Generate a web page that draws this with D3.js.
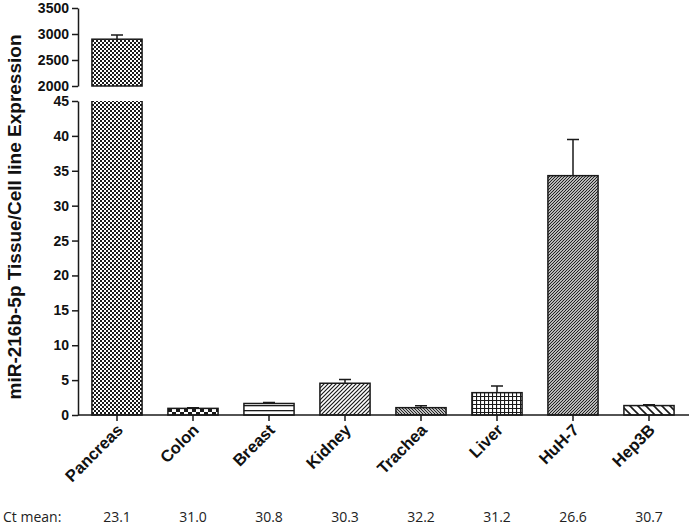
<!DOCTYPE html>
<html>
<head>
<meta charset="utf-8">
<script src="https://cdn.jsdelivr.net/npm/d3@7"></script>
<style>
  body { margin: 0; background: #fff; }
  svg { display: block; }
</style>
</head>
<body>
<div id="chart"></div>
<script>
// data
var categories = ["Pancreas", "Colon", "Breast", "Kidney", "Trachea", "Liver", "HuH-7", "Hep3B"];
var means = [2900, 0.95, 1.65, 4.55, 1.05, 3.2, 34.3, 1.35];
var errors = [80, 0.1, 0.15, 0.55, 0.28, 0.95, 5.2, 0.13];
var ctMeans = ["23.1", "31.0", "30.8", "30.3", "32.2", "31.2", "26.6", "30.7"];
var patterns = ["checkFine", "checkBig", "hlines", "diagUp", "diagDown", "grid", "diagDense", "diagWide"];
var upperTicks = [2000, 2500, 3000, 3500];
var lowerTicks = [0, 5, 10, 15, 20, 25, 30, 35, 40, 45];

var width = 690, height = 526;
var ink = "#1a1a1a";
var boldFont = "'Liberation Sans', Arial, sans-serif";

var svg = d3.select("#chart").append("svg")
	.attr("width", width)
	.attr("height", height);

// ---- fill patterns ----
var defs = svg.append("defs");
function addPattern(id, w, h, draw) {
	var p = defs.append("pattern")
		.attr("id", id)
		.attr("patternUnits", "userSpaceOnUse")
		.attr("width", w)
		.attr("height", h);
	p.append("rect").attr("width", w).attr("height", h).attr("fill", "#fff");
	draw(p);
}
addPattern("checkFine", 4, 4, function(p) {
	p.append("rect").attr("x", 0).attr("y", 0).attr("width", 2).attr("height", 2).attr("fill", ink);
	p.append("rect").attr("x", 2).attr("y", 2).attr("width", 2).attr("height", 2).attr("fill", ink);
});
addPattern("checkBig", 8, 8, function(p) {
	p.append("rect").attr("x", 0).attr("y", 0).attr("width", 4).attr("height", 4).attr("fill", ink);
	p.append("rect").attr("x", 4).attr("y", 4).attr("width", 4).attr("height", 4).attr("fill", ink);
});
addPattern("hlines", 6, 5, function(p) {
	p.append("rect").attr("x", 0).attr("y", 0).attr("width", 6).attr("height", 1.3).attr("fill", ink);
});
addPattern("diagUp", 4, 4, function(p) {
	p.append("path").attr("d", "M-1,1 L1,-1 M0,4 L4,0 M3,5 L5,3")
		.attr("stroke", ink).attr("stroke-width", 1.2);
});
addPattern("diagDown", 3, 3, function(p) {
	p.append("path").attr("d", "M-1,2 L1,4 M0,0 L3,3 M2,-1 L4,1")
		.attr("stroke", ink).attr("stroke-width", 1.1);
});
addPattern("grid", 4, 4, function(p) {
	p.append("path").attr("d", "M0,0.5 H4 M0.5,0 V4")
		.attr("stroke", ink).attr("stroke-width", 1.2);
});
addPattern("diagDense", 3, 3, function(p) {
	p.append("path").attr("d", "M-1,1 L1,-1 M0,3 L3,0 M2,4 L4,2")
		.attr("stroke", ink).attr("stroke-width", 1.2);
});
addPattern("diagWide", 8, 8, function(p) {
	p.append("path").attr("d", "M-2,6 L2,10 M0,0 L8,8 M6,-2 L10,2")
		.attr("stroke", ink).attr("stroke-width", 1.6);
});

// ---- scales ----
var x = d3.scaleBand()
	.domain(categories)
	.range([79, 687])
	.paddingInner(0.34)
	.paddingOuter(0.17);

var yUpper = d3.scaleLinear().domain([2000, 3500]).range([86, 8]);
var yLower = d3.scaleLinear().domain([0, 45]).range([415, 101]);
var axisX = 78;

// ---- y axes (broken) ----
function styleAxis(g) {
	g.select(".domain").attr("stroke", ink).attr("stroke-width", 1.5);
	g.selectAll(".tick line").attr("stroke", ink).attr("stroke-width", 1.5);
	g.selectAll(".tick text")
		.attr("fill", "#111")
		.style("font-family", boldFont)
		.style("font-weight", "bold")
		.style("font-size", "14px");
}
svg.append("g")
	.attr("transform", "translate(" + axisX + ",0)")
	.call(d3.axisLeft(yUpper).tickValues(upperTicks).tickFormat(d3.format("d"))
		.tickSize(6).tickSizeOuter(0).tickPadding(3))
	.call(styleAxis);
svg.append("g")
	.attr("transform", "translate(" + axisX + ",0)")
	.call(d3.axisLeft(yLower).tickValues(lowerTicks).tickFormat(d3.format("d"))
		.tickSize(6).tickSizeOuter(0).tickPadding(3))
	.call(styleAxis);

// ---- bars ----
var bars = svg.append("g");
categories.forEach(function(c, i) {
	var x0 = x(c), bw = x.bandwidth(), v = means[i], e = errors[i];
	var fill = "url(#" + patterns[i] + ")";
	var top, cap;
	if (v > 45) {
		// lower part, open at top
		bars.append("rect")
			.attr("x", x0).attr("y", yLower(45))
			.attr("width", bw).attr("height", yLower(0) - yLower(45))
			.attr("fill", fill);
		bars.append("path")
			.attr("d", "M" + x0 + "," + yLower(45) + "V" + yLower(0) + "H" + (x0 + bw) + "V" + yLower(45))
			.attr("fill", "none").attr("stroke", ink).attr("stroke-width", 1.5);
		// upper part
		bars.append("rect")
			.attr("x", x0).attr("y", yUpper(v))
			.attr("width", bw).attr("height", yUpper(2000) - yUpper(v))
			.attr("fill", fill).attr("stroke", ink).attr("stroke-width", 1.5);
		top = yUpper(v); cap = yUpper(v + e);
	} else {
		bars.append("rect")
			.attr("x", x0).attr("y", yLower(v))
			.attr("width", bw).attr("height", yLower(0) - yLower(v))
			.attr("fill", fill).attr("stroke", ink).attr("stroke-width", 1.5);
		top = yLower(v); cap = yLower(v + e);
	}
	var cx = x0 + bw / 2;
	bars.append("path")
		.attr("d", "M" + cx + "," + top + "V" + cap + "M" + (cx - 6) + "," + cap + "H" + (cx + 6))
		.attr("fill", "none").attr("stroke", ink).attr("stroke-width", 1.5);
});

// ---- x axis ----
var xAxis = svg.append("g")
	.attr("transform", "translate(0," + yLower(0) + ")")
	.call(d3.axisBottom(x).tickSize(6).tickSizeOuter(0).tickFormat(""));
xAxis.select(".domain").attr("d", "M" + axisX + ",0H689").attr("stroke", ink).attr("stroke-width", 1.5);
xAxis.selectAll(".tick line").attr("stroke", ink).attr("stroke-width", 1.5);

svg.append("g").selectAll("text")
	.data(categories)
	.enter().append("text")
		.attr("transform", function(d) {
			return "translate(" + (x(d) + x.bandwidth() / 2 + 7) + ",431) rotate(-45)";
		})
		.attr("text-anchor", "end")
		.style("font-family", boldFont)
		.style("font-weight", "bold")
		.style("font-size", "16.5px")
		.attr("fill", "#111")
		.text(function(d) { return d; });

// ---- y label ----
svg.append("text")
	.attr("transform", "translate(21,217) rotate(-90)")
	.attr("text-anchor", "middle")
	.style("font-family", boldFont)
	.style("font-weight", "bold")
	.style("font-size", "19px")
	.attr("fill", "#111")
	.text("miR-216b-5p Tissue/Cell line Expression");

// ---- Ct mean row ----
svg.append("text")
	.attr("x", 3).attr("y", 522)
	.style("font-family", "'Open Sans', sans-serif")
	.style("font-size", "14px")
	.attr("fill", "#222")
	.text("Ct mean:");
svg.append("g").selectAll("text")
	.data(ctMeans)
	.enter().append("text")
		.attr("x", function(d, i) { return x(categories[i]) + x.bandwidth() / 2; })
		.attr("y", 522)
		.attr("text-anchor", "middle")
		.style("font-family", "'Open Sans', sans-serif")
		.style("font-size", "14px")
		.attr("fill", "#222")
		.text(function(d) { return d; });
</script>
</body>
</html>
